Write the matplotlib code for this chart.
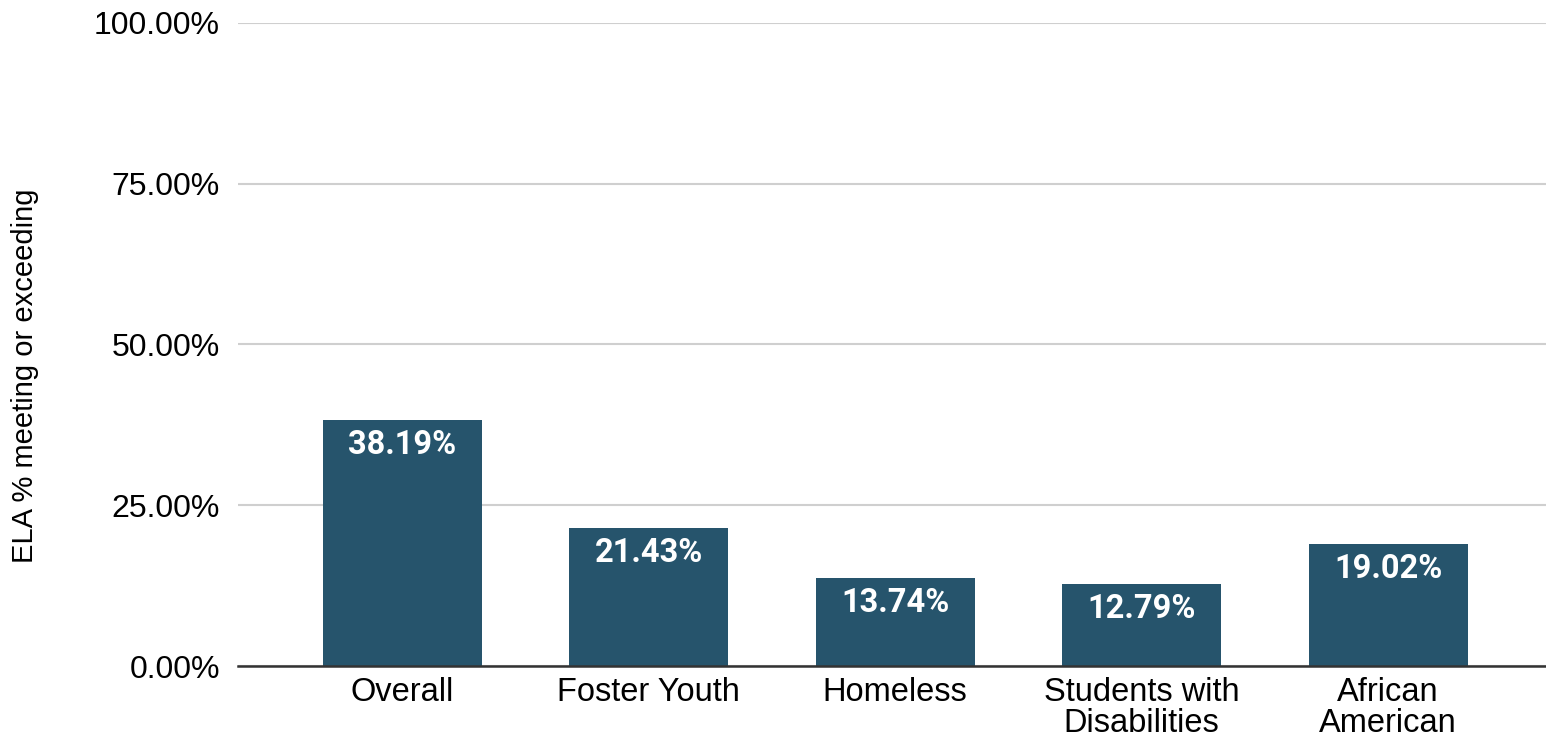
import matplotlib
matplotlib.use('Agg')
from matplotlib import pyplot as plt
from matplotlib.ticker import FuncFormatter

# ELA results by student group
groups = ['Overall', 'Foster Youth', 'Homeless', 'Students with\nDisabilities', 'African\nAmerican']
ela_pct = [38.19, 21.43, 13.74, 12.79, 19.02]
y_ticks = [0, 25, 50, 75, 100]

bar_color = '#26546c'

fig = plt.figure(figsize=(15.46, 7.36), dpi=100)
ax = fig.add_axes([0.154, 0.095, 0.846, 0.874])

x = range(len(groups))
bars = ax.bar(x, ela_pct, width=0.645, color=bar_color, zorder=3)

# value labels inside the top of each bar
for b, v in zip(bars, ela_pct):
    ax.annotate('{:.2f}%'.format(v), (b.get_x() + b.get_width() / 2, v),
                xytext=(0, -18), textcoords='offset points',
                ha='center', va='center', color='white',
                fontsize=23.5, fontweight='bold', family='Roboto', zorder=4)

ax.set_xlim(-0.665, len(groups) - 1 + 0.64)
ax.set_ylim(0, 100)
ax.set_yticks(y_ticks)
ax.yaxis.set_major_formatter(FuncFormatter(lambda v, p: '{:.2f}%'.format(v)))
ax.set_xticks(list(x))
ax.set_xticklabels(groups, linespacing=0.98)

ax.tick_params(axis='y', length=0, pad=13, labelsize=23)
ax.tick_params(axis='x', length=0, pad=8, labelsize=23.5)
for lbl in ax.get_xticklabels() + ax.get_yticklabels():
    lbl.set_family('Liberation Sans')

ax.grid(axis='y', color='#cfcfcf', linewidth=1.5, zorder=0)
for s in ['top', 'right', 'left']:
    ax.spines[s].set_visible(False)
ax.spines['bottom'].set_color('#333333')
ax.spines['bottom'].set_linewidth(1.8)
ax.spines['bottom'].set_zorder(5)

fig.text(0.016, 0.49, 'ELA % meeting or exceeding', rotation=90,
         ha='center', va='center', fontsize=21, family='Liberation Sans')

plt.savefig('out.png', dpi=100)
